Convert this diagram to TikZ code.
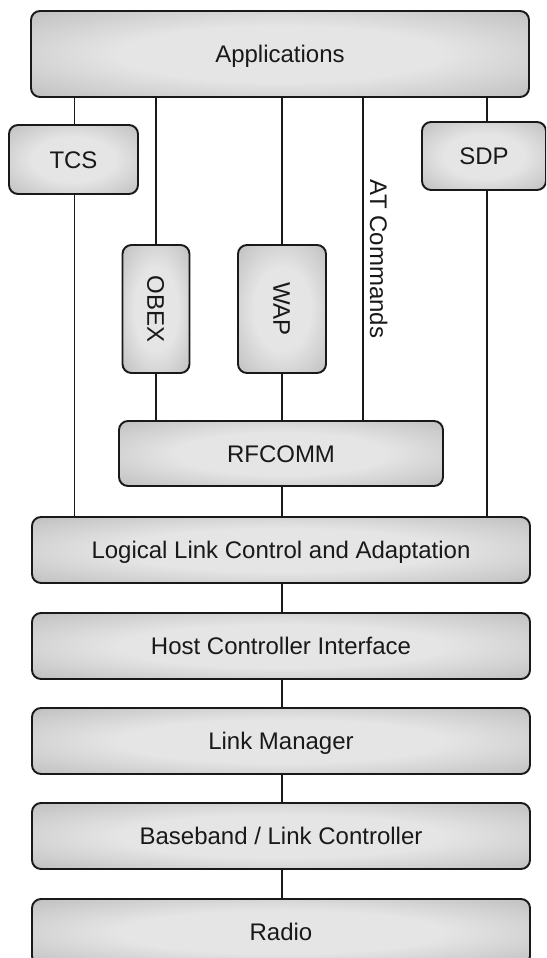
\documentclass[tikz,border=0pt]{standalone}
\usepackage{fontspec}
\setmainfont{Liberation Sans}
\definecolor{layerlight}{gray}{0.90}
\definecolor{layermid}{gray}{0.72}
\definecolor{layerdark}{gray}{0.56}
\pgfdeclareradialshading{layerglow}{\pgfpoint{0bp}{0bp}}{%
  color(0bp)=(layerlight); color(16bp)=(layerlight);
  color(40bp)=(layermid); color(50bp)=(layerdark); color(75bp)=(layerdark)}
\tikzset{
  box/.style={draw=black!90, line width=1.9pt, rounded corners=9pt,
    shade, shading=layerglow, inner sep=0pt},
  boxtext/.style={inner sep=0pt, text=black!90, font=\fontsize{24}{28}\selectfont,
    text height=17.2pt, text depth=0pt},
  wide/.style={box, boxtext, minimum width=498, minimum height=66},
  link/.style={draw=black!90, line width=1.6pt},
}
\begin{document}
\begin{tikzpicture}[x=1pt, y=-1pt]
  \clip (0,0) rectangle (546,958);
  \fill[white] (0,0) rectangle (546,958);

  % upper protocol layers
  \node[box, boxtext, minimum width=498, minimum height=86] (app) at (280,54) {Applications};
  \node[box, boxtext, minimum width=129, minimum height=69] (tcs) at (73.5,159.5) {TCS};
  \node[box, boxtext, minimum width=124, minimum height=68] (sdp) at (484,156) {SDP};
  \node[box, minimum width=67, minimum height=128] (obex) at (156,309) {};
  \node[boxtext, rotate=-90] (obexlbl) at (obex.center) {OBEX};
  \node[box, minimum width=88, minimum height=128] (wap) at (282,309) {};
  \node[boxtext, rotate=-90] (waplbl) at (wap.center) {WAP};
  \node[box, boxtext, minimum width=324, minimum height=65] (rfcomm) at (281,453.5) {RFCOMM};

  % lower stack
  \node[wide] (l2cap) at (281,550) {Logical Link Control and Adaptation};
  \node[wide] (hci) at (281,646) {Host Controller Interface};
  \node[wide] (lm) at (281,741) {Link Manager};
  \node[wide] (bb) at (281,836) {Baseband / Link Controller};
  \node[wide] (radio) at (281,932) {Radio};

  % columns of the vertical connectors
  \coordinate (ctcs) at (74.5,0);
  \coordinate (cobex) at (156,0);
  \coordinate (cwap) at (282,0);
  \coordinate (cat) at (363,0);
  \coordinate (csdp) at (487,0);

  \node[boxtext, rotate=-90] (atlbl) at (378.6,259) {AT Commands};

  \draw[link] (ctcs |- app.south) -- (ctcs |- tcs.north);
  \draw[link] (ctcs |- tcs.south) -- (ctcs |- l2cap.north);
  \draw[link] (cobex |- app.south) -- (cobex |- obex.north);
  \draw[link] (cobex |- obex.south) -- (cobex |- rfcomm.north);
  \draw[link] (cwap |- app.south) -- (cwap |- wap.north);
  \draw[link] (cwap |- wap.south) -- (cwap |- rfcomm.north);
  \draw[link] (cat |- app.south) -- (cat |- rfcomm.north);
  \draw[link] (csdp |- app.south) -- (csdp |- sdp.north);
  \draw[link] (csdp |- sdp.south) -- (csdp |- l2cap.north);
  \draw[link] (cwap |- rfcomm.south) -- (cwap |- l2cap.north);
  \draw[link] (cwap |- l2cap.south) -- (cwap |- hci.north);
  \draw[link] (cwap |- hci.south) -- (cwap |- lm.north);
  \draw[link] (cwap |- lm.south) -- (cwap |- bb.north);
  \draw[link] (cwap |- bb.south) -- (cwap |- radio.north);
\end{tikzpicture}
\end{document}
